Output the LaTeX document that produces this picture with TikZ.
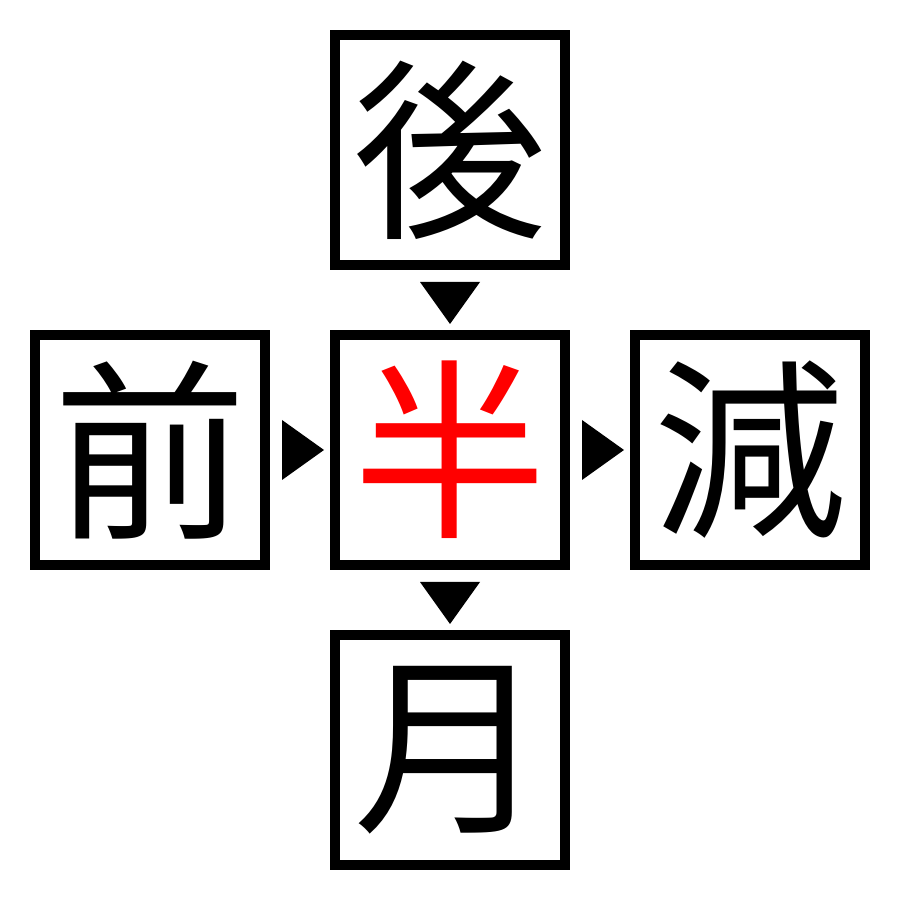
\documentclass[tikz,border=0pt]{standalone}
\usepackage{fontspec}
\newfontfamily\cjk{Noto Sans CJK JP}
\begin{document}
\begin{tikzpicture}[x=0.01cm,y=0.01cm,
  cell/.style={draw=black,line width=0.1cm,minimum size=2.3cm,inner sep=0pt,font=\cjk\fontsize{55}{55}\selectfont},
  tri/.style={fill=black}]
\useasboundingbox (0,0) rectangle (900,900);
\node[cell] (top) at (450,750) {後};
\node[cell,text=red] (mid) at (450,450) {半};
\node[cell] (left) at (150,450) {前};
\node[cell] (right) at (750,450) {減};
\node[cell] (bot) at (450,150) {月};
\fill[tri] (420,618) -- (480,618) -- (450,576) -- cycle;
\fill[tri] (420,318) -- (480,318) -- (450,276) -- cycle;
\fill[tri] (282,480) -- (282,420) -- (324,450) -- cycle;
\fill[tri] (582,480) -- (582,420) -- (624,450) -- cycle;
\end{tikzpicture}
\end{document}
